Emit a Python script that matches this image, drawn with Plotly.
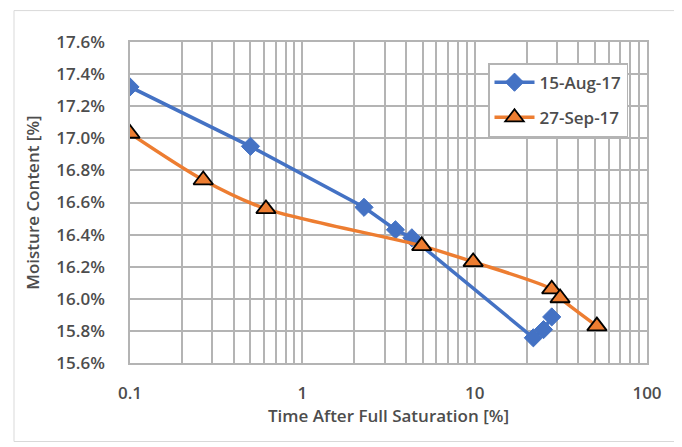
import plotly.graph_objects as go

# Data
aug_x = [0.1, 0.5, 2.28, 3.47, 4.32, 21.9, 25.1, 28.0]
aug_y = [0.1732, 0.1695, 0.1657, 0.1643, 0.1638, 0.15757, 0.15808, 0.15887]
sep_x = [0.1, 0.266, 0.615, 4.93, 9.8, 28.0, 31.3, 51.2]
sep_y = [0.1703, 0.1674, 0.1656, 0.1633, 0.1623, 0.1606, 0.16005, 0.1583]

x_tickvals = [0.1, 0.2, 0.3, 0.4, 0.5, 0.6, 0.7, 0.8, 0.9,
              1, 2, 3, 4, 5, 6, 7, 8, 9,
              10, 20, 30, 40, 50, 60, 70, 80, 90, 100]
x_ticktext = ["0.1"] + [""] * 8 + ["1"] + [""] * 8 + ["10"] + [""] * 8 + ["100"]

BLUE = "#4472C4"
ORANGE = "#ED7D31"
TXT = "#4D4D4D"
GRID = "#B4B4B4"
FONT = "Open Sans"

fig = go.Figure()
fig.add_trace(go.Scatter(
    x=aug_x, y=aug_y, name="15-Aug-17", mode="lines+markers", legendgroup="a",
    line=dict(color=BLUE, width=3.5),
    marker=dict(symbol="diamond", size=14, color=BLUE, line=dict(color=BLUE, width=1)),
))
fig.add_trace(go.Scatter(
    x=sep_x, y=sep_y, name="27-Sep-17", mode="lines+markers", legendgroup="b",
    line=dict(color=ORANGE, width=3.5, shape="spline", smoothing=0.8),
    marker=dict(symbol="triangle-up", size=17, color=ORANGE, line=dict(color="black", width=1.8)),
))

# body has an 8px margin in the page; compensate
OFF = 8
W, H = 682 - OFF, 447 - OFF
L, R, T, B = 130 - OFF, 35, 41.5 - OFF, 83.7
pw, ph = W - L - R, H - T - B

def px_x(x):
    return (x - OFF - L) / pw

def px_y(y):
    return (H - B - (y - OFF)) / ph

fig.update_layout(
    width=W, height=H,
    margin=dict(l=L, r=R, t=T, b=B),
    paper_bgcolor="white", plot_bgcolor="white",
    font=dict(family=FONT, size=17, color=TXT, weight=600),
    showlegend=True,
    legend=dict(
        x=px_x(488), y=px_y(62.7), xanchor="left", yanchor="top",
        bgcolor="white", bordercolor=GRID, borderwidth=1.5,
        font=dict(family=FONT, size=17, color=TXT, weight=600),
        tracegroupgap=10, itemwidth=40,
    ),
    xaxis=dict(
        type="log", range=[-1, 2],
        tickmode="array", tickvals=x_tickvals, ticktext=x_ticktext,
        showgrid=True, gridcolor=GRID, gridwidth=1.5,
        showline=True, linecolor=GRID, linewidth=1.5, mirror=True,
        ticks="", zeroline=False, ticklabelstandoff=14,
        title=dict(text="Time After Full Saturation [%]", font=dict(family=FONT, size=17, color=TXT, weight=600), standoff=2),
    ),
    yaxis=dict(
        range=[0.156, 0.176], dtick=0.002, tick0=0.156, tickformat=".1%",
        showgrid=True, gridcolor=GRID, gridwidth=1.5,
        showline=True, linecolor=GRID, linewidth=1.5, mirror=True,
        ticks="", zeroline=False, ticklabelstandoff=20,
        title=dict(text="Moisture Content [%]", font=dict(family=FONT, size=17, color=TXT, weight=600), standoff=12),
    ),
)

# light chart-area border
fig.add_shape(
    type="rect", xref="paper", yref="paper",
    x0=px_x(14), x1=px_x(676),
    y0=px_y(442), y1=px_y(10),
    line=dict(color="#D9D9D9", width=1), layer="below",
)

fig.write_html("out.html")
